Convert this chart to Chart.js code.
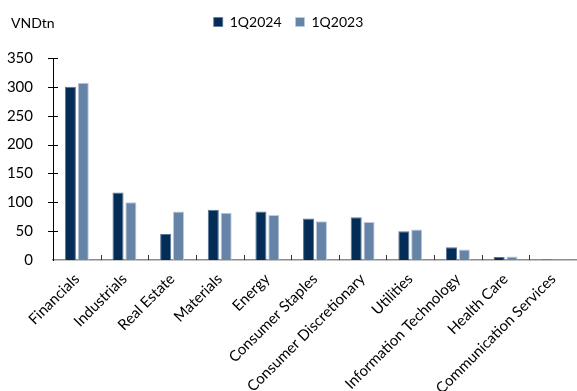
<!DOCTYPE html>
<html>
<head>
<meta charset="utf-8">
<script src="https://cdn.jsdelivr.net/npm/chart.js@4.4.1/dist/chart.umd.min.js"></script>
<style>
  html, body { margin: 0; padding: 0; background: #fff; }
  #wrap { width: 577px; height: 391px; position: relative; }
</style>
</head>
<body>
<div id="wrap"><canvas id="sectors"></canvas></div>
<script>
const sectors = [
  "Financials", "Industrials", "Real Estate", "Materials", "Energy",
  "Consumer Staples", "Consumer Discretionary", "Utilities",
  "Information Technology", "Health Care", "Communication Services"
];
const q1_2024 = [300, 117, 45, 87, 84, 72, 74, 50, 22, 5, 1];
const q1_2023 = [307, 100, 84, 82, 78, 67, 66, 53, 18, 6, 1];
const yTicks = [0, 50, 100, 150, 200, 250, 300, 350];

const FONT = "Lato, 'Open Sans', sans-serif";

// unit label in the top-left corner plus the small axis tick marks
const decorations = {
  id: "decorations",
  afterDraw(chart) {
    const { ctx, chartArea, scales } = chart;
    const x = scales.x, y = scales.y;
    ctx.save();
    ctx.fillStyle = "#000";
    ctx.font = "14px " + FONT;
    ctx.textBaseline = "middle";
    ctx.textAlign = "left";
    ctx.fillText("VNDtn", 11, 23);

    // cross ticks on the value axis
    ctx.strokeStyle = "#000";
    ctx.lineWidth = 1;
    yTicks.forEach(v => {
      if (v === 0) return;
      const py = Math.round(y.getPixelForValue(v)) + 0.5;
      ctx.beginPath();
      ctx.moveTo(chartArea.left - 5, py);
      ctx.lineTo(chartArea.left + 5, py);
      ctx.stroke();
    });

    // short inner ticks between categories
    const step = x.width / sectors.length;
    ctx.strokeStyle = "#333";
    for (let i = 1; i < sectors.length; i++) {
      const px = Math.round(x.left + step * i) + 0.5;
      ctx.beginPath();
      ctx.moveTo(px, chartArea.bottom);
      ctx.lineTo(px, chartArea.bottom - 5);
      ctx.stroke();
    }
    ctx.restore();
  }
};

const legendSpace = {
  id: "legendSpace",
  beforeInit(chart) {
    const fit = chart.legend.fit;
    chart.legend.fit = function () {
      fit.bind(chart.legend)();
      this.height = 57;
    };
  }
};

new Chart(document.getElementById("sectors"), {
  type: "bar",
  data: {
    labels: sectors,
    datasets: [
      {
        label: "1Q2024",
        data: q1_2024,
        backgroundColor: "#032c57",
        borderColor: "#5a7597",
        borderWidth: { top: 1, left: 1, right: 1, bottom: 0 },
        categoryPercentage: 0.54,
        barPercentage: 0.86
      },
      {
        label: "1Q2023",
        data: q1_2023,
        backgroundColor: "#6683a8",
        borderColor: "#bccbdd",
        borderWidth: { top: 1, left: 1, right: 1, bottom: 0 },
        categoryPercentage: 0.54,
        barPercentage: 0.86
      }
    ]
  },
  options: {
    responsive: true,
    maintainAspectRatio: false,
    animation: false,
    layout: { padding: { top: 1, right: 0, left: 0, bottom: 0 } },
    plugins: {
      legend: {
        position: "top",
        align: "center",
        labels: {
          boxWidth: 9,
          boxHeight: 9,
          padding: 14,
          color: "#000",
          font: { family: FONT, size: 14 },
          useBorderRadius: false
        }
      },
      tooltip: { enabled: false }
    },
    scales: {
      x: {
        afterFit: (scale) => { scale.height = 131; },
        grid: { display: false, drawTicks: false },
        border: { display: true, color: "#8c8c8c", width: 1.5 },
        ticks: {
          color: "#000",
          font: { family: FONT, size: 15 },
          minRotation: 45,
          maxRotation: 45,
          padding: 10,
          autoSkip: false
        }
      },
      y: {
        min: 0,
        max: 350,
        afterFit: (scale) => { scale.width = 53; },
        afterBuildTicks: (scale) => { scale.ticks = yTicks.map(v => ({ value: v })); },
        grid: { display: false, drawTicks: false },
        border: { display: true, color: "#000", width: 1 },
        ticks: {
          color: "#000",
          font: { family: FONT, size: 15 },
          padding: 20
        }
      }
    }
  },
  plugins: [decorations, legendSpace]
});
</script>
</body>
</html>
